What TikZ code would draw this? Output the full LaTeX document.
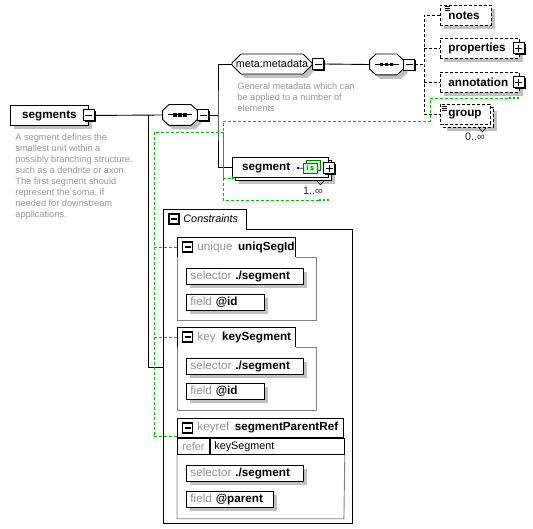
\documentclass[tikz,border=0pt]{standalone}
\usepackage{fontspec}
\setmainfont{Liberation Sans}
\usetikzlibrary{arrows.meta}
\usetikzlibrary{calc}
\usetikzlibrary{positioning}
\usetikzlibrary{shapes.misc}
\usetikzlibrary{shadows}
\definecolor{idgreen}{RGB}{0,190,0}
\definecolor{shadowgray}{RGB}{192,192,192}
\definecolor{docgray}{RGB}{150,150,150}
\definecolor{kwgray}{RGB}{145,145,145}
\definecolor{framegray}{RGB}{128,128,128}
\definecolor{iconfill}{RGB}{204,255,204}
\definecolor{icondark}{RGB}{0,128,0}
\definecolor{occnavy}{RGB}{40,30,90}
\newcommand{\bfnt}{\fontsize{11.7}{14}\selectfont\bfseries}
\newcommand{\rfnt}{\fontsize{10.8}{13}\selectfont}
\newcommand{\dfnt}{\fontsize{9.2}{11}\selectfont}
\newcommand{\kw}[1]{{\mdseries\color{kwgray}#1}}
\newcommand{\tabpad}{\hspace*{20pt}}
% octagon outline of a compositor node
\newcommand{\octpath}[1]{([xshift=6.5pt]#1.north west) -- ([xshift=-6.5pt]#1.north east) -- ([yshift=-6pt]#1.north east) -- ([yshift=6pt]#1.south east) -- ([xshift=-6.5pt]#1.south east) -- ([xshift=6.5pt]#1.south west) -- ([yshift=6pt]#1.south west) -- ([yshift=-6pt]#1.north west) -- cycle}

\begin{document}
\begin{tikzpicture}[x=1pt,y=-1pt,line width=0.9pt,
  shadowed/.style={drop shadow={shadow xshift=4pt,shadow yshift=-4pt,fill=shadowgray,opacity=1}},
  box/.style={draw,fill=white,anchor=north west,minimum height=20pt,inner sep=0pt,font=\bfnt},
  elem/.style={box,shadowed},
  optline/.style={dash pattern=on 3pt off 2pt},
  optelem/.style={elem,optline,text width=#1,align=left,inner xsep=8pt},
  cut/.style={chamfered rectangle,chamfered rectangle xsep=#1,chamfered rectangle ysep=#1},
  seq/.style={minimum width=34pt,minimum height=20pt,inner sep=0pt},
  btn/.style={draw,fill=white,minimum size=11pt,inner sep=0pt,drop shadow={shadow xshift=1.2pt,shadow yshift=-1.2pt,fill=black,opacity=1}},
  collapse/.style={btn,path picture={\draw ([xshift=2pt]path picture bounding box.west) -- ([xshift=-2pt]path picture bounding box.east);}},
  expand/.style={btn,path picture={\draw ([xshift=2pt]path picture bounding box.west) -- ([xshift=-2pt]path picture bounding box.east);
      \draw ([yshift=-2pt]path picture bounding box.north) -- ([yshift=2pt]path picture bounding box.south);}},
  tabbtn/.style={draw,line width=1.2pt,fill=white,minimum size=10pt,inner sep=0pt,
    path picture={\draw ([xshift=2pt]path picture bounding box.west) -- ([xshift=-2pt]path picture bounding box.east);}},
  doc/.style={anchor=north west,inner sep=0pt,align=left,font=\dfnt,text=docgray},
  occurs/.style={font=\rfnt,text=occnavy,inner sep=0pt},
  idref/.style={draw=idgreen,dash pattern=on 3pt off 2pt},
  idend/.style={draw=idgreen,line width=2pt,dash pattern=on 2pt off 2pt},
  cbox/.style={anchor=north west,inner sep=0pt},
  ctab/.style={anchor=south west,minimum height=19pt,inner sep=0pt,text width=#1,align=left,font=\bfnt},
  xpath/.style={elem,minimum height=16pt,inner xsep=4pt,text width=#1,align=left},
]
\useasboundingbox (0,0) rectangle (533,529);

% root element
\node (segments) [elem,minimum width=78pt] at (10,105) {segments};
\node (segmentsbtn) [collapse] at (segments.east) {};
\node (segmentsdoc) [doc] at (15,133) {A segment defines the\\smallest unit within a\\possibly branching structure,\\such as a dendrite or axon.\\The first segment should\\represent the soma, if\\needed for downstream\\applications.};

% sequence compositors
\node (seq1) [seq] at (180,115) {};
\node (seq2) [seq,minimum width=33pt] at (386.5,64.5) {};
\foreach \q in {seq1,seq2} {
  \fill[shadowgray,transform canvas={shift={(4pt,-4pt)}}] \octpath{\q};
  \draw[fill=white] \octpath{\q};
  \draw[line width=1pt] ([xshift=-12pt]\q.center) -- ([xshift=12pt]\q.center);
  \foreach \dx in {-5,0,5} \fill ([xshift=\dx pt]\q.center) +(-1.8,-1.8) rectangle +(1.8,1.8);
}
\node (seq1btn) [collapse,right=0pt of seq1] {};
\node (seq2btn) [collapse,right=0pt of seq2] {};

% content model
\node (meta) [elem,cut=5pt,anchor=center,minimum width=80pt,font=\rfnt] at (272,64) {meta:metadata};
\node (metabtn) [collapse,right=0pt of meta] {};
\node (metadoc) [doc] at (237,82) {General metadata which can\\be applied to a number of\\elements};

\node (notes) [optelem=35pt] at (440,5) {notes};
\node (properties) [optelem=63pt] at (440,38) {properties};
\node (propbtn) [expand] at ([xshift=-1pt]properties.east) {};
\node (annotation) [optelem=63pt] at (440,72) {annotation};
\node (annotbtn) [expand] at ([xshift=-1pt]annotation.east) {};
\node (groupbk) [elem,optline,minimum width=50pt] at (443,107) {};
\node (group) [box,optline,text width=34pt,align=left,inner xsep=8pt] at (440,104) {group};
\node (groupocc) [occurs] at (475,137) {0..∞};
\foreach \k in {0,2,4} {
  \draw[line width=0.6pt] ([shift={(5,\k+1.5)}]notes.north west) -- ++(5,0);
  \draw[line width=0.6pt] ([shift={(2,\k+2)}]group.north west) -- ++(5,0);
}
\draw[line width=0.6pt] ([xshift=-15pt]groupbk.south east) -- ++(3.5,4) -- ++(3.5,-4);

\node (segmentbk) [elem,minimum width=96pt] at (235,160) {};
\node (segment) [box,text width=76.6pt,align=left,inner xsep=9.7pt] at (232,157) {segment};
\node (segicon2) [draw=icondark,line width=0.6pt,fill=iconfill,minimum width=14pt,minimum height=10pt,inner sep=0pt,anchor=north west] at (306,160) {};
\node (segicon) [draw=icondark,line width=0.6pt,fill=iconfill,minimum width=14pt,minimum height=10pt,inner sep=0pt,anchor=north west,font=\fontsize{7}{7}\selectfont] at (303,163) {i\,\,s};
\coordinate (segptr) at (296,168);
\draw[-{Latex[length=3pt,width=3pt]},draw=blue!40!black,line width=0.6pt] (segicon.west) -- (segptr);
\node (segmentbtn) [expand] at ([xshift=0.5pt,yshift=-1pt]segment.east) {};
\draw[line width=0.6pt] ([xshift=-15pt]segmentbk.south east) -- ++(3.5,4) -- ++(3.5,-4);
\node (segmentocc) [occurs] at (313,191) {1..∞};

% connectors
\coordinate (trunk) at (148,115);
\coordinate (bus1) at (218,115);
\coordinate (bus2) at (424,64.5);
\draw (segmentsbtn.east) -- ([xshift=-0.5pt]seq1.west);
\draw (seq1btn.east) -- (bus1);
\draw (meta.west) -| (bus1) |- (segment.west);
\draw (metabtn.east) -- ([xshift=-0.5pt]seq2.west);
\draw[optline] (seq2btn.east) -- (bus2);
\draw[optline] (notes.west) -| (bus2) |- (group.west);
\draw[optline] (bus2 |- properties.west) -- (properties.west);
\draw[optline] (bus2 |- annotation.west) -- (annotation.west);

% identity constraints
\node (cons) [cbox,minimum width=189pt,minimum height=294pt] at (163,229) {};
\node (constab) [ctab=83pt,font=\rfnt\itshape] at (cons.north west) {\tabpad Constraints};
\node (consbtn) [tabbtn] at ([xshift=11pt]constab.west) {};
\draw (cons.south west) -- (constab.north west) -- (constab.north east) -- (constab.south east) -- (cons.north east) -- (cons.south east) -- cycle;
\draw (trunk) |- ([yshift=9pt]cons.west);

\node (uniqbox) [cbox,minimum width=139pt,minimum height=63pt] at (177,257) {};
\node (uniqtab) [ctab=118pt] at (uniqbox.north west) {\tabpad\kw{unique}\hspace{5.5pt}uniqSegId};
\node (uniqbtn) [tabbtn] at ([xshift=10.5pt]uniqtab.west) {};
\draw[framegray] (uniqtab.south west) |- (uniqbox.south east) |- (uniqtab.south east);
\draw (uniqtab.south west) |- (uniqtab.north east) -- (uniqtab.south east);
\node (uniqsel) [xpath=109pt] at ([shift={(9,11)}]uniqbox.north west) {\kw{selector} ./segment};
\node (uniqfld) [xpath=70pt,below=9pt of uniqsel.south west,anchor=north west] {\kw{field} @id};

\node (keybox) [cbox,minimum width=139pt,minimum height=63pt] at (177,347) {};
\node (keytab) [ctab=118pt] at (keybox.north west) {\tabpad\kw{key}\hspace{6.5pt}keySegment};
\node (keybtn) [tabbtn] at ([xshift=10.5pt]keytab.west) {};
\draw[framegray] (keytab.south west) |- (keybox.south east) |- (keytab.south east);
\draw (keytab.south west) |- (keytab.north east) -- (keytab.south east);
\node (keysel) [xpath=109pt] at ([shift={(9,11)}]keybox.north west) {\kw{selector} ./segment};
\node (keyfld) [xpath=70pt,below=8pt of keysel.south west,anchor=north west] {\kw{field} @id};

\node (krtab) [ctab=166pt,draw,anchor=north west] at (177,418) {\tabpad\kw{keyref}\hspace{5.5pt}segmentParentRef};
\node (krbtn) [tabbtn] at ([xshift=10.5pt]krtab.west) {};
\node (krrefer) [draw,anchor=north west,minimum width=32pt,minimum height=16pt,inner sep=0pt,font=\rfnt,text=kwgray] at (krtab.south west) {refer};
\node (krkey) [draw,anchor=north west,minimum height=16pt,inner xsep=4pt,inner ysep=0pt,text width=126pt,align=left,font=\rfnt] at (krrefer.north east) {keySegment};
\node (krbox) [cbox,minimum width=166pt,minimum height=63pt] at (krrefer.south west) {};
\draw[framegray] (krrefer.south west) |- (krbox.south east) -- (krkey.south east);
\node (krsel) [xpath=109pt] at ([shift={(9,10)}]krbox.north west) {\kw{selector} ./segment};
\node (krfld) [xpath=79pt,below=9pt of krsel.south west,anchor=north west] {\kw{field} @parent};

% selector and field references
\coordinate (gleft) at (154,132);
\coordinate (gjoin) at (223,132);
\coordinate (gseg) at (223,178);
\coordinate (gsegbot) at (223,200.5);
\coordinate (gsegend) at (319,200.5);
\coordinate (gtop) at (223,121);
\coordinate (gturn) at (430,121);
\coordinate (gturn2) at (430,98);
\coordinate (gannot) at (509,98);
\draw[idref] ([yshift=1pt]krtab.south west) -| (gleft) -- (gjoin) -- (gseg);
\draw[idref] (uniqtab.west) -- (uniqtab.west -| gleft);
\draw[idref] (keytab.west) -- (keytab.west -| gleft);
\draw[idref,-{Latex[length=3pt,width=4pt]}] (gseg) -- (segmentbk.west |- gseg);
\draw[idref] (gsegend) -- (gsegbot) -- (gtop) -- (gturn) -- (gturn2) -- (gannot);
\draw[idend] (gannot) -- ++(10,0);
\draw[idend] (gsegend) -- ++(10,0);

\end{tikzpicture}
\end{document}
